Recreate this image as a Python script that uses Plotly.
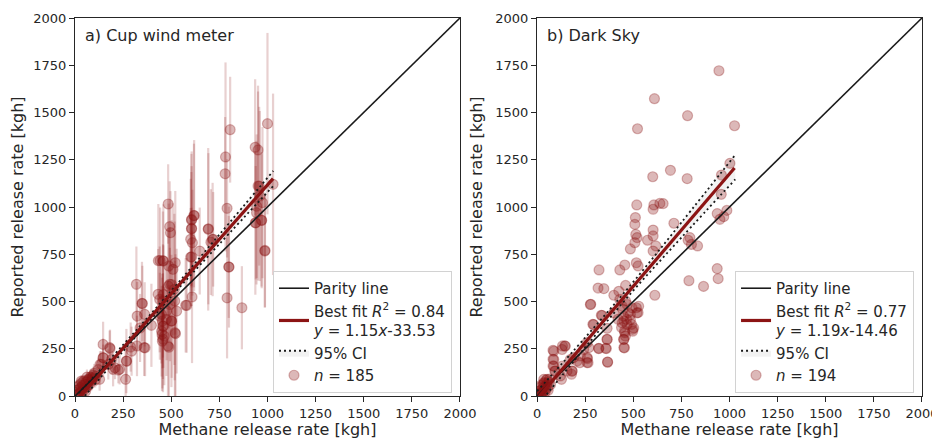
import plotly.graph_objects as go

# ---------------- data: panel a (Cup wind meter) ----------------
a_x = [1000, 806, 936, 951, 782, 780, 484, 790, 619, 605, 492, 692, 496, 605, 601, 610, 718, 648, 601, 986,
       951, 960, 974, 943, 969, 939, 1029, 957, 944, 433, 457, 521, 487, 509, 799, 319, 432, 492, 516, 608,
       790, 867, 575, 348, 440, 457, 518, 323, 362, 397, 449, 475, 457, 501, 522, 452, 457, 483, 359, 322,
       289, 267, 146, 180, 232, 263, 198, 146, 137, 128, 85, 33, 459, 485, 502, 350, 528, 580, 338, 441,
       454, 459, 450, 464, 454, 488, 502, 519, 476, 493, 364, 294, 182, 147, 190, 173, 225, 268, 208, 121,
       130, 69, 87, 442, 459, 606, 618, 606, 693, 715, 706, 606, 800, 970, 987, 937,
       5, 10, 15, 20, 25, 30, 35, 40, 45, 50, 55, 60, 65, 70, 75, 80, 90, 95, 100, 110, 15, 25, 8, 45, 55, 62, 105, 35]
a_y = [1441, 1409, 1316, 1302, 1265, 1176, 1016, 993, 954, 931, 896, 882, 864, 885, 829, 811, 829, 767, 735, 767,
       1111, 1058, 1023, 970, 929, 917, 1120, 1110, 1004, 716, 716, 705, 688, 670, 683, 591, 538, 591, 564, 524,
       519, 467, 480, 490, 511, 503, 503, 423, 432, 374, 432, 406, 370, 397, 330, 326, 300, 265, 256, 265,
       259, 185, 273, 256, 141, 88, 141, 203, 168, 88, 79, 79, 537, 581, 590, 489, 449, 479, 360, 422,
       396, 369, 343, 317, 290, 258, 396, 335, 449, 484, 255, 237, 251, 202, 193, 167, 137, 184, 149, 140,
       167, 88, 96, 717, 714, 934, 955, 886, 885, 828, 814, 736, 682, 930, 770, 916,
       5, 20, 10, 35, 15, 45, 25, 55, 30, 60, 45, 75, 50, 85, 60, 100, 90, 110, 120, 105, 50, 60, 30, 80, 25, 100, 85, 70]
a_err = [480, 280, 360, 340, 500, 300, 210, 260, 400, 350, 240, 430, 220, 300, 320, 280, 250, 230, 260, 300,
         500, 450, 400, 380, 350, 300, 480, 420, 380, 300, 260, 380, 330, 350, 270, 200, 240, 300, 400, 350,
         320, 220, 250, 220, 280, 300, 420, 180, 170, 220, 260, 300, 280, 350, 420, 300, 280, 350, 150, 160,
         130, 170, 120, 90, 80, 170, 90, 100, 70, 60, 50, 30, 260, 300, 340, 200, 330, 250, 180, 230,
         250, 220, 240, 260, 250, 330, 300, 380, 260, 300, 150, 130, 100, 70, 80, 80, 70, 110, 60, 60,
         70, 40, 50, 280, 300, 360, 380, 330, 400, 300, 280, 260, 320, 360, 300, 380,
         10, 15, 12, 20, 15, 25, 20, 25, 20, 30, 25, 35, 30, 40, 30, 40, 45, 45, 50, 50, 20, 25, 15, 30, 20, 40, 40, 30]

# ---------------- data: panel b (Dark Sky) ----------------
b_x = [945, 610, 782, 522, 1026, 693, 601, 780, 1002, 958, 957, 518, 607, 638, 655, 603, 511, 508, 711, 936,
       986, 970, 950, 513, 520, 508, 574, 603, 603, 485, 603, 617, 794, 802, 834, 785, 322, 456, 430, 516,
       525, 936, 941, 789, 865, 317, 347, 460, 399, 425, 612, 279, 430, 460, 516, 525, 334, 290, 364, 364,
       321, 357, 366, 269, 262, 265, 222, 182, 179, 132, 144, 83, 83, 83, 92, 127, 35, 451, 451, 439,
       456, 465, 451, 491, 496, 473, 421, 447,
       442, 468, 494, 519, 528, 450, 485, 442, 468, 502, 454, 459, 497, 450, 454, 485,
       277, 338, 294, 398, 364, 320, 360, 367, 260, 260, 225, 260, 242, 190, 182, 156, 130, 87, 87, 87,
       95, 147, 130, 173, 121, 208, 52, 35,
       5, 10, 15, 20, 25, 30, 35, 40, 45, 50, 55, 60, 12, 22, 32, 42, 8, 18, 28, 38, 48, 58, 65, 70]
b_y = [1721, 1573, 1483, 1414, 1430, 1194, 1160, 1150, 1231, 1169, 1067, 1011, 1011, 1019, 1018, 988, 944, 908, 914, 965,
       982, 949, 935, 855, 838, 811, 824, 878, 847, 778, 767, 794, 838, 802, 794, 824, 667, 693, 667, 705,
       688, 674, 621, 610, 580, 571, 568, 585, 533, 554, 533, 485, 511, 503, 467, 441, 427, 379, 358, 300,
       252, 252, 180, 256, 198, 176, 176, 132, 115, 265, 265, 242, 194, 159, 132, 88, 88, 256, 300, 362,
       335, 406, 397, 379, 353, 441, 406, 459,
       475, 484, 466, 440, 475, 422, 431, 387, 378, 360, 343, 317, 343, 299, 255, 404,
       484, 426, 378, 440, 299, 251, 251, 179, 177, 204, 212, 282, 246, 203, 132, 132, 158, 237, 193, 158,
       132, 264, 246, 193, 106, 185, 88, 70,
       8, 15, 5, 30, 20, 40, 25, 50, 35, 60, 45, 75, 45, 10, 60, 20, 25, 55, 15, 70, 85, 30, 90, 60]

# fit results and 95% CI half-widths
fit_a = dict(slope=1.15, intercept=-33.53, r2=0.84, n=185)
fit_b = dict(slope=1.19, intercept=-14.46, r2=0.77, n=194)
ci_x = [0, 250, 500, 750, 1030]
ci_a_half = [28, 17, 15, 25, 40]
ci_b_half = [40, 26, 23, 40, 65]

tick_vals = [0, 250, 500, 750, 1000, 1250, 1500, 1750, 2000]
tick_text = [str(v) for v in tick_vals]

RED = "rgb(140,20,20)"
FONT = "DejaVu Sans"
TXT = "#262626"

fig = go.Figure()


def add_panel(xs, ys, err, fit, ci_half, xa, ya, leg):
    # scatter points (with error bars if given)
    sc = dict(x=xs, y=ys, mode="markers", xaxis=xa, yaxis=ya, legend=leg,
              name=f"<i>n</i> = {fit['n']}", legendrank=4,
              marker=dict(size=10, color="rgba(140,20,20,0.3)",
                          line=dict(width=1.2, color="rgba(140,20,20,0.3)")),
              hoverinfo="skip")
    if err is not None:
        sc["error_y"] = dict(type="data", array=err, color="rgba(140,20,20,0.2)",
                             thickness=2.2, width=0)
    fig.add_trace(go.Scatter(**sc))
    # parity line
    fig.add_trace(go.Scatter(x=[0, 2000], y=[0, 2000], mode="lines", xaxis=xa, yaxis=ya,
                             legend=leg, name="Parity line", legendrank=1,
                             line=dict(color="#1a1a1a", width=1.6)))
    # 95% CI
    fx = ci_x
    fy = [fit["slope"] * v + fit["intercept"] for v in fx]
    lo = [f - h for f, h in zip(fy, ci_half)]
    hi = [f + h for f, h in zip(fy, ci_half)]
    fig.add_trace(go.Scatter(x=fx, y=lo, mode="lines", xaxis=xa, yaxis=ya, legend=leg,
                             line=dict(color="#1a1a1a", width=1.8, dash="2px,3px", shape="spline"),
                             showlegend=False, legendgroup="ci" + leg))
    fig.add_trace(go.Scatter(x=fx, y=hi, mode="lines", xaxis=xa, yaxis=ya, legend=leg,
                             line=dict(color="#1a1a1a", width=1.8, dash="2px,3px", shape="spline"),
                             fill="tonexty", fillcolor="rgba(0,0,0,0.05)",
                             name="95% CI", legendrank=3, legendgroup="ci" + leg))
    # best fit
    fit_x = [min(xs), max(xs)]
    fit_y = [fit["slope"] * v + fit["intercept"] for v in fit_x]
    label = (f"Best fit <i>R</i><sup>2</sup> = {fit['r2']:.2f}<br>"
             f"<i>y</i> = {fit['slope']:.2f}<i>x</i>{fit['intercept']:.2f}")
    fig.add_trace(go.Scatter(x=fit_x, y=fit_y, mode="lines", xaxis=xa, yaxis=ya, legend=leg,
                             name=label, legendrank=2, line=dict(color=RED, width=3.2)))


add_panel(a_x, a_y, a_err, fit_a, ci_a_half, "x", "y", "legend")
add_panel(b_x, b_y, None, fit_b, ci_b_half, "x2", "y2", "legend2")

axis_common = dict(range=[0, 2000], tickvals=tick_vals, ticktext=tick_text, ticks="outside",
                   ticklen=5, tickwidth=1.2, tickcolor=TXT, showline=True, linecolor=TXT,
                   linewidth=1.2, mirror=True, showgrid=False, zeroline=False, automargin=False,
                   tickfont=dict(family=FONT, size=13, color=TXT))

xt = dict(text="Methane release rate [kgh]", font=dict(family=FONT, size=16, color=TXT), standoff=4)
yt = dict(text="Reported release rate [kgh]", font=dict(family=FONT, size=16, color=TXT), standoff=8)

legend_common = dict(font=dict(family=FONT, size=15, color=TXT), bgcolor="rgba(255,255,255,0.8)",
                     bordercolor="rgb(210,210,210)", borderwidth=1, xanchor="right",
                     yanchor="bottom", y=0.008, traceorder="normal", itemwidth=30)

# the page body adds an 8px offset, so the figure is drawn 8px smaller
fig.update_layout(
    width=932, height=431,
    margin=dict(l=67, r=18, t=10, b=42.5),
    plot_bgcolor="white", paper_bgcolor="white",
    font=dict(family=FONT, color=TXT),
    xaxis=dict(domain=[0, 0.4545], title=xt, **axis_common),
    yaxis=dict(domain=[0, 1], title=yt, **axis_common),
    xaxis2=dict(domain=[0.5455, 1], title=xt, anchor="y2", **axis_common),
    yaxis2=dict(domain=[0, 1], title=yt, anchor="x2", **axis_common),
    legend=dict(x=0.4451, **legend_common),
    legend2=dict(x=0.9906, **legend_common),
    annotations=[
        dict(text="a) Cup wind meter", xref="x domain", yref="y domain", x=0.02, y=0.985,
             xanchor="left", yanchor="top", showarrow=False,
             font=dict(family=FONT, size=16, color=TXT)),
        dict(text="b) Dark Sky", xref="x2 domain", yref="y2 domain", x=0.02, y=0.985,
             xanchor="left", yanchor="top", showarrow=False,
             font=dict(family=FONT, size=16, color=TXT)),
    ],
    showlegend=True,
)

fig.write_html("out.html")
